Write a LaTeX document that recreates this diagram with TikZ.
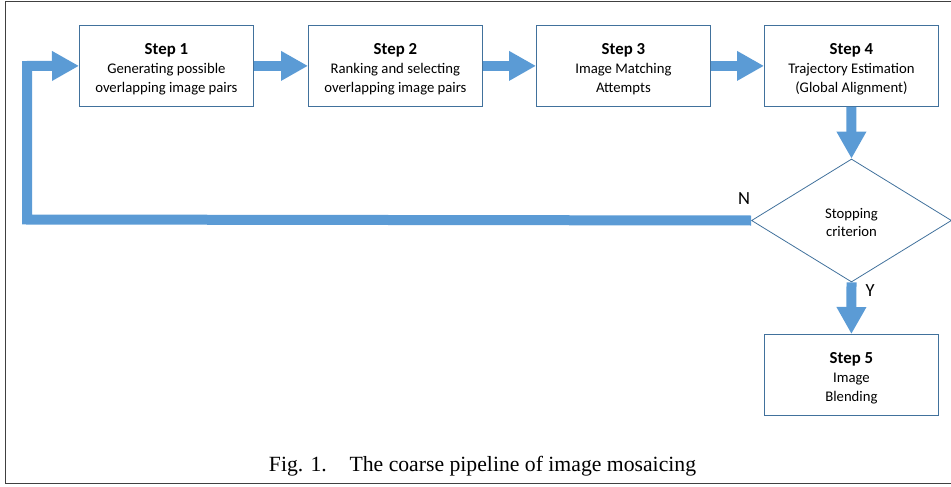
\documentclass[tikz,border=0pt]{standalone}
\usepackage{fontspec}
\setmainfont{Carlito}
\newfontfamily\capfont{Liberation Serif}
\usetikzlibrary{arrows.meta,shapes.geometric}
\definecolor{arrowblue}{HTML}{5B9BD5}
\definecolor{boxblue}{HTML}{41719C}
\definecolor{framegray}{HTML}{404040}
\newcommand{\pushdown}{\rule{0pt}{17pt}}
\newcommand{\stephead}[1]{\pushdown{\fontsize{16.8pt}{19pt}\selectfont\bfseries #1}}
\begin{document}
\begin{tikzpicture}[x=1pt,y=-1pt,
  stepbox/.style={draw=boxblue,line width=0.8pt,minimum width=174pt,minimum height=81pt,
    inner sep=0pt,align=center,font=\fontsize{14.7pt}{19pt}\selectfont,anchor=north west},
  decision/.style={draw=boxblue,line width=0.8pt,shape=diamond,minimum width=200pt,minimum height=123pt,
    inner sep=0pt,align=center,font=\fontsize{14.7pt}{18.5pt}\selectfont},
  flow/.style={draw=arrowblue,line width=10pt,-{Triangle[width=28pt,length=27pt]}},
  lbl/.style={font=\fontsize{18.5pt}{20pt}\selectfont}
]
\useasboundingbox (0,0) rectangle (951,487);
\draw[framegray,line width=1.5pt] (951,1.5) -- (5.5,1.5) -- (5.5,483.5) -- (951,483.5);

\node[stepbox] (s1) at (79,25) {\stephead{Step 1}\\Generating possible\\overlapping image pairs};
\node[stepbox] (s2) at (308,25) {\stephead{Step 2}\\Ranking and selecting\\overlapping image pairs};
\node[stepbox] (s3) at (536,25) {\stephead{Step 3}\\Image Matching\\Attempts};
\node[stepbox] (s4) at (764,25) {\stephead{Step 4}\\Trajectory Estimation\\(Global Alignment)};
\node[decision] (d) at (851.5,220.5) {\rule{0pt}{14pt}Stopping\\criterion};
\node[stepbox] (s5) at (764,334) {\stephead{Step 5}\\Image\\Blending};

\draw[flow] (s1.east) -- (s2.west);
\draw[flow] (s2.east) -- (s3.west);
\draw[flow] (s3.east) -- (s4.west);
\draw[flow] (s4.south) -- (d.north);
\draw[flow] (d.south) -- (s5.north);
\coordinate (c1) at (27,219.5);
\coordinate (c2) at (27,66);
\draw[flow] (d.west) -- (c1) -- (c2) -- (s1.west);

\node[lbl] (n) at (744,198.5) {N};
\node[lbl] (y) at (870,291) {Y};

\node[font=\capfont\fontsize{21.7pt}{24pt}\selectfont,anchor=base] (cap) at (482.5,471) {Fig. 1.\hspace{1.05em}The coarse pipeline of image mosaicing};
\end{tikzpicture}
\end{document}
